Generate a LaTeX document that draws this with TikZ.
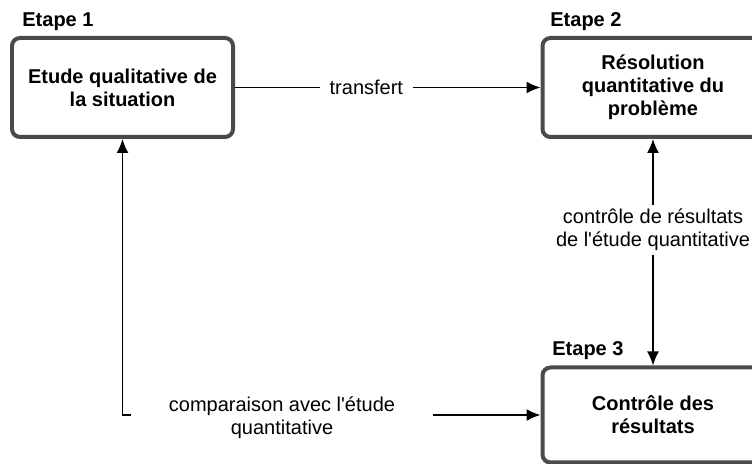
\documentclass[tikz,border=0pt]{standalone}
\usepackage{fontspec}
\setmainfont{Liberation Sans}
\usepackage{tikz}
\usetikzlibrary{arrows.meta}
\definecolor{gris}{HTML}{4A4A4A}

\begin{document}
\begin{tikzpicture}[x=0.5pt, y=-0.5pt, font=\fontsize{10}{11.5}\selectfont,
  boite/.style={draw=gris, line width=2pt, rounded corners=4pt, fill=white,
    minimum width=110.5pt, minimum height=49.5pt, align=center, font=\fontsize{10}{11.5}\selectfont\bfseries},
  etape/.style={anchor=base west, inner sep=0pt, font=\fontsize{10}{11.5}\selectfont\bfseries},
  fleche/.style={line width=0.75pt, -{Latex[length=7pt,width=6pt]}},
  double fleche/.style={line width=0.75pt, {Latex[length=7pt,width=6pt]}-{Latex[length=7pt,width=6pt]}},
  etiq/.style={fill=white, align=center, inner xsep=5pt, inner ysep=2pt}]
  \useasboundingbox (0,0) rectangle (752,464);
  % Riquadri
  \node[boite] (b1) at (122.5,87.5) {Etude qualitative de\\la situation};
  \node[boite] (b2) at (653,87.5) {Résolution\\quantitative du\\problème};
  \node[boite, minimum height=47.5pt] (b3) at (653,415) {Contrôle des\\résultats};
  % Etapes
  \foreach \n/\x/\y in {1/22/27, 2/550/27, 3/552/356} {
    \node[etape] (e\n) at (\x,\y) {Etape \n};
  }
  % Frecce
  \draw[fleche] (b1) -- node[etiq, pos=0.43] {transfert} (b2);
  \draw[double fleche] (b2.south) --
    node[etiq, pos=0.4] {contrôle de résultats\\de l\textquotesingle étude quantitative} (b3.north);
  \coordinate (cg) at (130.7,415);
  \coordinate (cd) at (433,415);
  \draw[fleche] (cg) -| (b1.south);
  \draw[fleche] (cd) -- (b3.west);
  \node[align=center] (cmp) at (282,418) {comparaison avec l\textquotesingle étude\\quantitative};
\end{tikzpicture}
\end{document}
